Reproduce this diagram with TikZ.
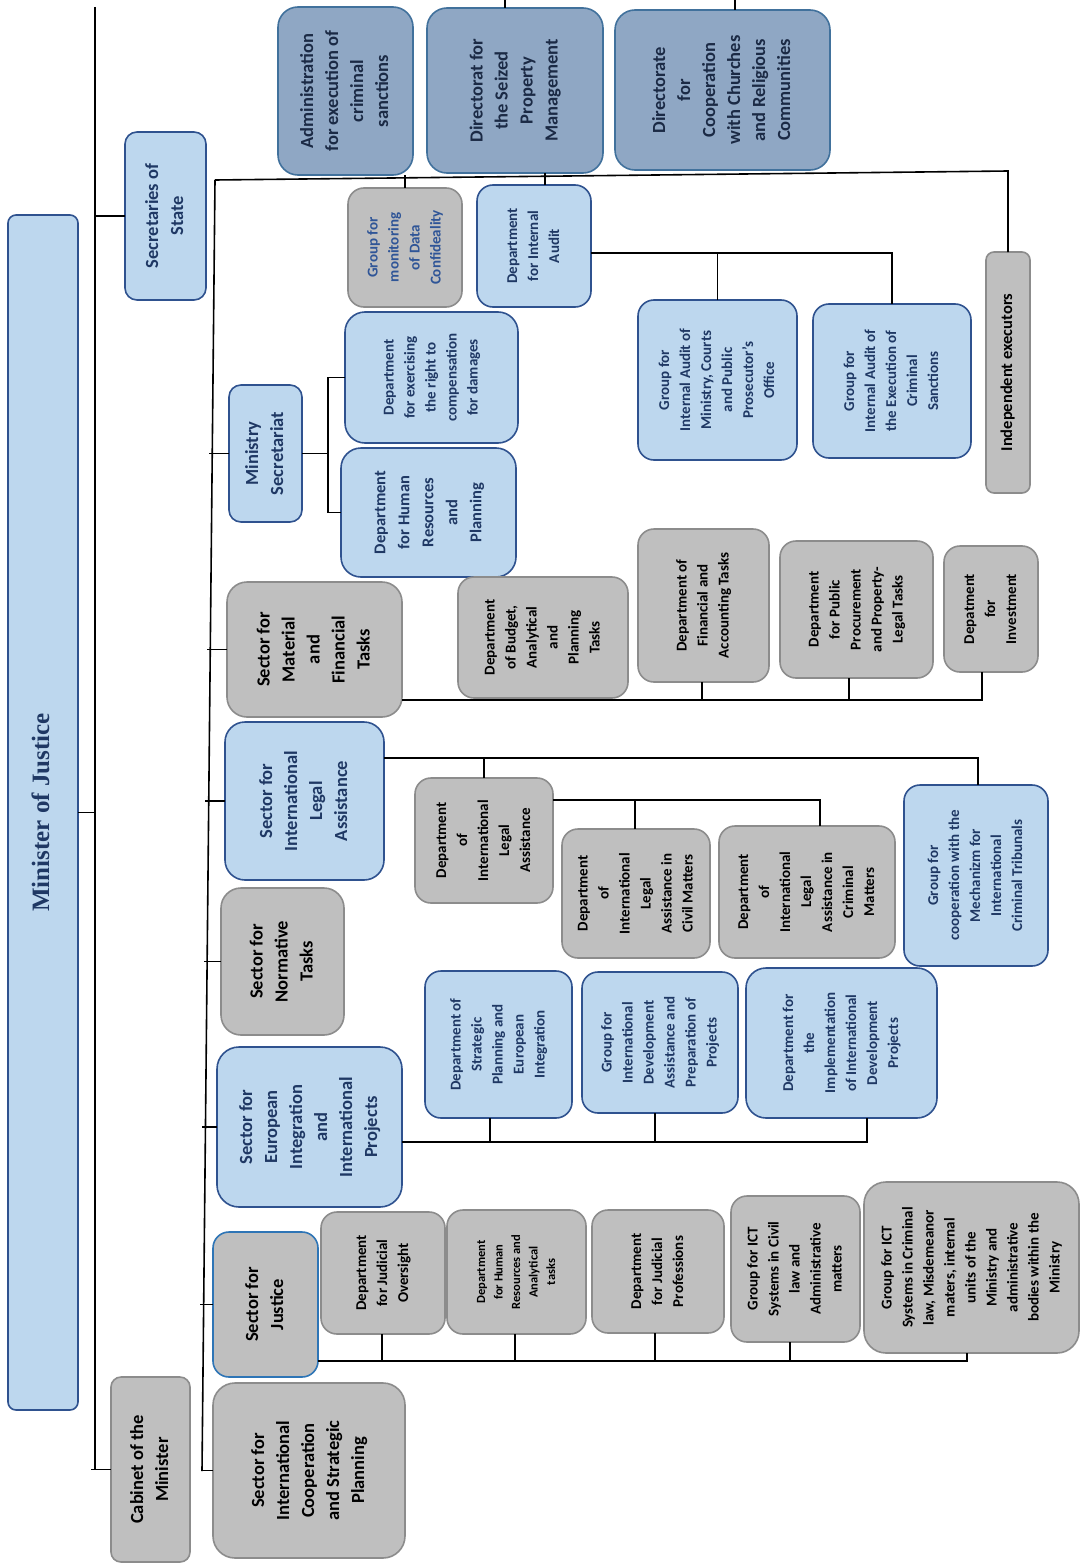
\documentclass[tikz,border=0pt]{standalone}
\usepackage{fontspec}
\usepackage{graphicx}
\setmainfont{Carlito}
\newfontfamily\tnrfont{Liberation Serif}
\definecolor{lbfill}{HTML}{BDD7EE}
\definecolor{lbdraw}{HTML}{2F528F}
\definecolor{navytext}{HTML}{1F3864}
\definecolor{gfill}{HTML}{BFBFBF}
\definecolor{gdraw}{HTML}{8C8C8C}
\definecolor{dfill}{HTML}{8FA7C4}
\definecolor{ddraw}{HTML}{41719C}
\definecolor{dtext}{HTML}{1B2A45}
\definecolor{sjdraw}{HTML}{2E75B6}
\definecolor{gmtext}{HTML}{2F5597}
\newcommand\rtxt[1]{\rotatebox{90}{\begin{tabular}{@{}c@{}}#1\end{tabular}}}
\newcommand\orgbox[7]{\node[#1, minimum width={(#5-#3)*1pt}, minimum height={(#6-#4)*1pt}] (#2) at ({(#3+#5)/2},{(#4+#6)/2}) {\rtxt{#7}};}
\tikzset{
  ln/.style={draw=black, line width=1.6pt},
  basebox/.style={rectangle, rounded corners=16pt, line width=1.6pt, inner sep=0pt, outer sep=0pt},
  lb/.style={basebox, fill=lbfill, draw=lbdraw, text=navytext},
  gb/.style={basebox, fill=gfill, draw=gdraw, text=black},
  db/.style={basebox, fill=dfill, draw=ddraw, text=dtext, rounded corners=20pt},
  bigf/.style={font=\fontsize{18.5}{25}\selectfont\bfseries},
  medf/.style={font=\fontsize{15}{21}\selectfont\bfseries},
  smlf/.style={font=\fontsize{12.5}{17.5}\selectfont\bfseries},
}
\begin{document}
\begin{tikzpicture}[x=1pt,y=-1pt]
\path[fill=white] (0,0) rectangle (1080,1565);
\useasboundingbox (0,0) rectangle (1080,1565);

% minister and first level
\orgbox{lb, rounded corners=8pt, font=\tnrfont\fontsize{25}{30}\selectfont\bfseries}{min}{8}{215}{78}{1410}{Minister of Justice}
\orgbox{lb,bigf,rounded corners=12pt}{sec}{125}{132}{206}{300}{Secretaries of\\State}
\orgbox{gb,bigf,rounded corners=10pt}{cab}{111}{1377}{190}{1562}{Cabinet of the\\Minister}

% top row
\orgbox{db,bigf}{adm}{278}{7}{413}{175}{Administration\\for execution of\\criminal\\sanctions}
\orgbox{db,bigf}{dsp}{427}{8}{603}{173}{Directorat for\\the Seized\\Property\\Management}
\orgbox{db,bigf}{dch}{615}{10}{830}{170}{Directorate\\for\\Cooperation\\with Churches\\and Religious\\Communities}

\orgbox{gb,medf,text=gmtext}{gm}{348}{188}{462}{307}{Group for\\monitoring\\of Data\\Confideality}
\orgbox{lb,medf}{dia}{477}{185}{591}{307}{Department\\for Internal\\Audit}
\orgbox{lb,medf}{gim}{638}{300}{797}{460}{Group for\\Internal Audit of\\Ministry, Courts\\and Public\\Prosecutor’s\\Office}
\orgbox{lb,medf}{gie}{813}{304}{971}{458}{Group for\\Internal Audit of\\the Execution of\\Criminal\\Sanctions}
\orgbox{gb,font=\fontsize{16.5}{20}\selectfont\bfseries,rounded corners=8pt}{ind}{986}{252}{1030}{493}{Independent executors}

% ministry secretariat
\orgbox{lb,bigf,rounded corners=12pt}{ms}{229}{385}{302}{522}{Ministry\\Secretariat}
\orgbox{lb,medf,rounded corners=20pt}{dex}{345}{312}{518}{443}{Department\\for exercising\\the right to\\compensation\\for damages}
\orgbox{lb,font=\fontsize{16.5}{24}\selectfont\bfseries,rounded corners=20pt}{dhr}{341}{448}{516}{577}{Department\\for Human\\Resources\\and\\Planning}

% material and financial
\orgbox{gb,bigf,rounded corners=20pt}{smf}{227}{582}{402}{717}{Sector for\\Material\\and\\Financial\\Tasks}
\orgbox{gb,medf}{dbu}{458}{577}{628}{698}{Department\\of Budget,\\Analytical\\and\\Planning\\Tasks}
\orgbox{gb,medf}{fin}{638}{529}{769}{682}{Department of\\Financial and\\Accounting Tasks}
\orgbox{gb,medf}{pp}{780}{541}{933}{678}{Department\\for Public\\Procurement\\and Property-\\Legal Tasks}
\orgbox{gb,medf}{inv}{944}{546}{1038}{672}{Depatment\\for\\Investment}

% international legal assistance
\orgbox{lb,bigf,rounded corners=20pt}{sila}{225}{722}{384}{880}{Sector for\\International\\Legal\\Assistance}
\orgbox{gb,medf}{dil}{415}{778}{553}{903}{Department\\of\\International\\Legal\\Assistance}
\orgbox{gb,medf}{dcv}{562}{829}{710}{958}{Department\\of\\International\\Legal\\Assistance in\\Civil Matters}
\orgbox{gb,medf}{dcr}{719}{826}{895}{958}{Department\\of\\International\\Legal\\Assistance in\\Criminal\\Matters}
\orgbox{lb,medf}{gmt}{904}{785}{1048}{966}{Group for\\cooperation with the\\Mechanizm for\\International\\Criminal Tribunals}

% normative
\orgbox{gb,bigf,rounded corners=20pt}{snt}{221}{888}{344}{1035}{Sector for\\Normative\\Tasks}

% european integration
\orgbox{lb,bigf,rounded corners=22pt}{seu}{217}{1047}{402}{1207}{Sector for\\European\\Integration\\and\\International\\Projects}
\orgbox{lb,medf}{dsi}{425}{971}{572}{1118}{Department of\\Strategic\\Planning and\\European\\Integration}
\orgbox{lb,medf}{gid}{582}{972}{738}{1113}{Group for\\International\\Development\\Assistance and\\Preparation of\\Projects}
\orgbox{lb,medf,rounded corners=20pt}{dim}{746}{968}{937}{1118}{Department for\\the\\Implementation\\of International\\Development\\Projects}

% justice
\orgbox{gb,bigf,draw=sjdraw,rounded corners=16pt}{sj}{213}{1232}{318}{1377}{Sector for\\Justice}
\orgbox{gb,medf}{djo}{321}{1212}{445}{1334}{Department\\for Judicial\\Oversight}
\orgbox{gb,smlf}{dha}{447}{1210}{586}{1334}{Department\\for Human\\Resources and\\Analytical\\tasks}
\orgbox{gb,medf}{djp}{592}{1210}{724}{1333}{Department\\for Judicial\\Professions}
\orgbox{gb,medf}{gic}{731}{1196}{860}{1342}{Group for ICT\\Systems in Civil\\law and\\Administrative\\matters}
\orgbox{gb,medf,rounded corners=22pt}{gicc}{864}{1182}{1079}{1353}{Group for ICT\\Systems in Criminal\\law, Misdemeanor\\maters, internal\\units of the\\Ministry and\\administrative\\bodies within the\\Ministry}

% international cooperation
\orgbox{gb,bigf,rounded corners=22pt}{sic}{213}{1383}{405}{1558}{Sector for\\International\\Cooperation\\and Strategic\\Planning}

% ---------- connectors ----------
\coordinate (mtop) at (95,7);
\coordinate (mbot) at (95,1470);
\draw[ln] (mtop) -- (mbot);
\draw[ln] (min.east) -- (min.east -| mtop);
\draw[ln] (sec.west) -- (sec.west -| mtop);
\draw[ln] ([xshift=-4pt]cab.west -| mtop) -- (cab.west);

\coordinate (s1) at (505,0);
\coordinate (s2) at (735,0);
\draw[ln] (s1) -- +(0,8);
\draw[ln] (s2) -- +(0,10);

\coordinate (ltop) at (215,180);
\coordinate (lbot) at (202,1471);
\draw[ln] (ltop) -- (lbot);
\draw[ln] (ms.west) -- +(-20,0);
\draw[ln] (smf.west) -- +(-20,0);
\draw[ln] (sila.west) -- +(-20,0);
\draw[ln] (snt.west) -- +(-17,0);
\draw[ln] (seu.west) -- +(-15,0);
\draw[ln] (sj.west) -- +(-13,0);
\draw[ln] (sic.west) -- (sic.west -| lbot);

% top horizontal
\coordinate (tr) at (1008,171);
\draw[ln] (ltop) -- (tr) -- (ind.north);
\draw[ln] (adm.south -| gm.north) -- (gm.north);
\coordinate (jdsp) at (545,0);
\draw[ln] (dsp.south -| jdsp) -- (dia.north -| jdsp);
\coordinate (ja) at (892,253);
\draw[ln] (dia.east |- ja) -- (ja) -- (gie.north);
\draw[ln] (gim.north) -- (gim.north |- ja);

% ministry secretariat
\coordinate (jms) at (328,0);
\draw[ln] (ms.east) -- (ms.east -| jms);
\draw[ln] (dex.west) -- (dex.west -| jms) -- (dhr.west -| jms) -- (dhr.west);

% material
\coordinate (jm) at (982,700);
\coordinate (jm1) at (702,700);
\coordinate (jm2) at (849,700);
\draw[ln] (smf.east |- jm) -- (jm) -- (jm |- inv.south);
\draw[ln] (jm1) -- (jm1 |- fin.south);
\draw[ln] (jm2) -- (jm2 |- pp.south);

% international legal
\coordinate (jl) at (978,758);
\draw[ln] (sila.east |- jl) -- (jl) -- (jl |- gmt.north);
\draw[ln] (dil.north) -- (dil.north |- jl);
\coordinate (jd) at (820,800);
\coordinate (jd1) at (635,800);
\draw[ln] (dil.east |- jd) -- (jd) -- (jd |- dcr.north);
\draw[ln] (jd1) -- (jd1 |- dcv.north);

% european
\coordinate (je) at (867,1142);
\coordinate (je1) at (490,1142);
\coordinate (je2) at (655,1142);
\draw[ln] (seu.east |- je) -- (je) -- (je |- dim.south);
\draw[ln] (je1) -- (je1 |- dsi.south);
\draw[ln] (je2) -- (je2 |- gid.south);

% justice
\coordinate (jj) at (967,1361);
\coordinate (jj1) at (382,1361);
\coordinate (jj2) at (515,1361);
\coordinate (jj3) at (655,1361);
\coordinate (jj4) at (790,1361);
\draw[ln] (sj.east |- jj) -- (jj) -- (jj |- gicc.south);
\draw[ln] (jj1) -- (jj1 |- djo.south);
\draw[ln] (jj2) -- (jj2 |- dha.south);
\draw[ln] (jj3) -- (jj3 |- djp.south);
\draw[ln] (jj4) -- (jj4 |- gic.south);
\end{tikzpicture}
\end{document}
